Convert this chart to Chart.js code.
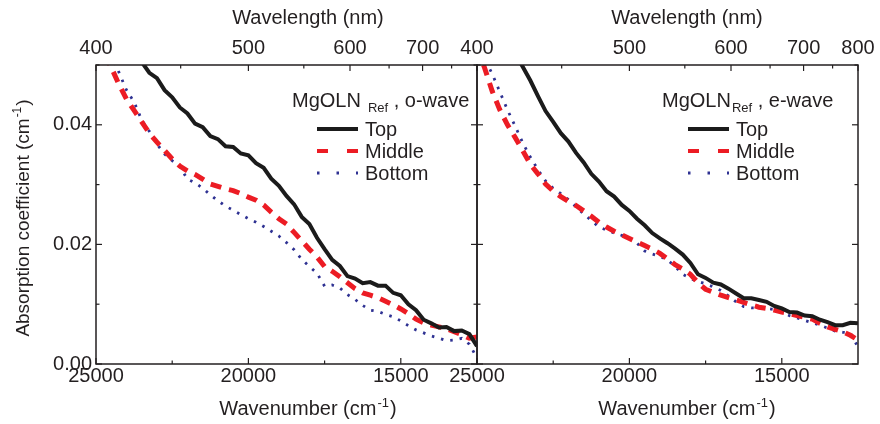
<!DOCTYPE html>
<html><head><meta charset="utf-8">
<script src="https://cdn.jsdelivr.net/npm/chart.js@4/dist/chart.umd.min.js"></script>
<style>
html,body{margin:0;padding:0;background:#fff;}
#wrap{position:relative;width:880px;height:424px;background:#fff;}
#wrap canvas{position:absolute;left:0;top:0;width:880px;height:424px;}
</style></head><body>
<div id="wrap"><canvas id="cL" width="880" height="424"></canvas><canvas id="cR" width="880" height="424"></canvas></div>
<script>
// ---- data ----
const wavenumbers = [25000,24750,24500,24250,24000,23750,23500,23250,23000,22750,22500,22250,22000,21750,21500,21250,21000,20750,20500,20250,20000,19750,19500,19250,19000,18750,18500,18250,18000,17750,17500,17250,17000,16750,16500,16250,16000,15750,15500,15250,15000,14750,14500,14250,14000,13750,13500,13250,13000,12750,12500];
const seriesNames = ['Top','Middle','Bottom'];
// o-wave (left panel)
const oTop    = [0.0600,0.0585,0.0568,0.0552,0.0536,0.0520,0.0505,0.0487,0.0478,0.0458,0.0446,0.0429,0.0419,0.0402,0.0396,0.0381,0.0376,0.0364,0.0363,0.0352,0.0349,0.0336,0.0328,0.0310,0.0298,0.0281,0.0267,0.0246,0.0234,0.0211,0.0192,0.0174,0.0164,0.0147,0.0143,0.0135,0.0137,0.0131,0.0131,0.0119,0.0115,0.0100,0.0090,0.0074,0.0068,0.0061,0.0062,0.0055,0.0056,0.0050,0.0030];
const oMiddle = [0.0545,0.0522,0.0496,0.0468,0.0443,0.0424,0.0405,0.0386,0.0371,0.0357,0.0343,0.0331,0.0323,0.0317,0.0309,0.0301,0.0297,0.0293,0.0290,0.0285,0.0279,0.0274,0.0266,0.0254,0.0243,0.0234,0.0220,0.0206,0.0192,0.0179,0.0163,0.0155,0.0146,0.0136,0.0126,0.0119,0.0115,0.0111,0.0105,0.0099,0.0092,0.0084,0.0075,0.0069,0.0065,0.0062,0.0059,0.0054,0.0049,0.0043,0.0045];
const oBottom = [0.0560,0.0540,0.0515,0.0488,0.0458,0.0438,0.0408,0.0389,0.0368,0.0351,0.0340,0.0330,0.0309,0.0303,0.0294,0.0283,0.0273,0.0264,0.0257,0.0250,0.0243,0.0237,0.0230,0.0222,0.0214,0.0203,0.0191,0.0175,0.0163,0.0152,0.0130,0.0132,0.0127,0.0116,0.0108,0.0098,0.0090,0.0088,0.0083,0.0079,0.0072,0.0064,0.0057,0.0052,0.0047,0.0043,0.0039,0.0040,0.0043,0.0033,0.0010];
// e-wave (right panel)
const eTop    = [0.0650,0.0625,0.0600,0.0575,0.0548,0.0520,0.0497,0.0474,0.0448,0.0423,0.0405,0.0386,0.0372,0.0353,0.0337,0.0318,0.0305,0.0289,0.0280,0.0266,0.0256,0.0243,0.0232,0.0219,0.0210,0.0202,0.0193,0.0183,0.0169,0.0150,0.0144,0.0136,0.0133,0.0126,0.0118,0.0110,0.0110,0.0107,0.0104,0.0097,0.0093,0.0087,0.0086,0.0081,0.0080,0.0074,0.0070,0.0065,0.0065,0.0069,0.0068];
const eMiddle = [0.0530,0.0495,0.0456,0.0425,0.0400,0.0379,0.0357,0.0334,0.0318,0.0301,0.0289,0.0280,0.0272,0.0265,0.0256,0.0247,0.0237,0.0229,0.0222,0.0216,0.0210,0.0204,0.0198,0.0192,0.0185,0.0176,0.0166,0.0159,0.0150,0.0136,0.0125,0.0120,0.0115,0.0111,0.0107,0.0103,0.0099,0.0095,0.0093,0.0090,0.0087,0.0084,0.0081,0.0078,0.0075,0.0068,0.0062,0.0058,0.0054,0.0048,0.0040];
const eBottom = [0.0535,0.0510,0.0485,0.0455,0.0425,0.0398,0.0370,0.0346,0.0325,0.0306,0.0294,0.0285,0.0275,0.0263,0.0251,0.0240,0.0229,0.0224,0.0219,0.0215,0.0210,0.0202,0.0189,0.0184,0.0180,0.0174,0.0163,0.0150,0.0143,0.0138,0.0134,0.0129,0.0123,0.0114,0.0104,0.0096,0.0094,0.0094,0.0093,0.0091,0.0086,0.0081,0.0077,0.0073,0.0069,0.0065,0.0060,0.0055,0.0053,0.0052,0.0028];
// tick values
const wavenumberTicks = [25000,20000,15000];
const wavenumberMinor = [22500,17500];
const wavelengthLabelsLeft = [400,500,600,700];
const wavelengthLabelsRight = [400,500,600,700,800];
const wavelengthMajor = [400,500,600,700,800];
const wavelengthMinor = [450,550,650,750];
const yTicks = [0,0.02,0.04];
const yMinor = [0.01,0.03,0.05];

// ---- styling ----
const TEXT = '#231f20';
const FAMILY = '"Liberation Sans", Arial, Helvetica, sans-serif';
const styles = [
  {color:'#1b1b1b', width:4, dash:[], legDash:[]},
  {color:'#ec1c24', width:5, dash:[11,8], legDash:[11,19]},
  {color:'#2e3192', width:2.8, dash:[2.5,7], legDash:[2.5,17]}
];

function partsWidth(ctx, parts){
  let w = 0;
  parts.forEach(p=>{ ctx.font = p.size+'px '+FAMILY; w += (p.pre||0) + ctx.measureText(p.t).width; });
  return w;
}
function drawRich(ctx, parts, x, y, align){
  let cx = align==='center' ? x - partsWidth(ctx, parts)/2 : x;
  parts.forEach(p=>{
    ctx.font = p.size+'px '+FAMILY;
    cx += (p.pre||0);
    ctx.fillText(p.t, cx, y + (p.dy||0));
    cx += ctx.measureText(p.t).width;
  });
}

function decorPlugin(cfg){
  return {
    id: 'decor',
    afterDraw(chart){
      const ctx = chart.ctx, a = chart.chartArea;
      const x = chart.scales.x, xt = chart.scales.xTop, y = chart.scales.y;
      ctx.save();
      ctx.strokeStyle = TEXT; ctx.fillStyle = TEXT;
      const seg = (x1,y1,x2,y2)=>{ ctx.beginPath(); ctx.moveTo(x1,y1); ctx.lineTo(x2,y2); ctx.stroke(); };
      ctx.lineWidth = 1.2;
      wavenumberTicks.forEach(v=>{ const p = x.getPixelForValue(v); seg(p,a.bottom,p,a.bottom-6); });
      wavenumberMinor.forEach(v=>{ const p = x.getPixelForValue(v); seg(p,a.bottom,p,a.bottom-3.5); });
      wavelengthMajor.forEach(l=>{ const p = xt.getPixelForValue(1e7/l); seg(p,a.top,p,a.top+6); });
      wavelengthMinor.forEach(l=>{ const p = xt.getPixelForValue(1e7/l); seg(p,a.top,p,a.top+3.5); });
      yTicks.forEach(v=>{ const p = y.getPixelForValue(v); seg(a.left,p,a.left+6,p); seg(a.right,p,a.right-6,p); });
      yMinor.forEach(v=>{ const p = y.getPixelForValue(v); seg(a.left,p,a.left+3.5,p); seg(a.right,p,a.right-3.5,p); });
      ctx.lineWidth = 1.5;
      ctx.strokeRect(a.left, a.top, a.right-a.left, a.bottom-a.top);

      ctx.textBaseline = 'alphabetic';
      ctx.textAlign = 'left';
      drawRich(ctx, [{t:'Wavelength (nm)', size:20}], cfg.titleX, 24, 'center');
      drawRich(ctx, [{t:'Wavenumber (cm', size:20},{t:'-1', size:13, dy:-8, pre:1},{t:')', size:20, pre:1}], cfg.titleX, 415, 'center');
      if (cfg.yTitle){
        ctx.save();
        ctx.translate(29, 218);
        ctx.rotate(-Math.PI/2);
        drawRich(ctx, [{t:'Absorption coefficient (cm', size:19},{t:'-1', size:12, dy:-8, pre:1},{t:')', size:19, pre:1}], 0, 0, 'center');
        ctx.restore();
      }
      // legend
      drawRich(ctx, cfg.legendTitle, cfg.legTitleX, 107, 'left');
      const rowsY = [129, 151, 173];
      seriesNames.forEach((name, i)=>{
        const s = styles[i];
        ctx.save();
        ctx.strokeStyle = s.color; ctx.lineWidth = Math.min(s.width, 4); ctx.setLineDash(s.legDash); ctx.lineCap = 'butt';
        seg(cfg.legLineX, rowsY[i], cfg.legLineX + 41, rowsY[i]);
        ctx.restore();
        ctx.font = '20px '+FAMILY;
        ctx.fillText(name, cfg.legTextX, rowsY[i] + 7);
      });
      ctx.restore();
    }
  };
}

function makeChart(id, values, cfg){
  const datasets = values.map((vals, i)=>({
    label: seriesNames[i],
    data: wavenumbers.map((w, k)=>({x: w, y: vals[k]})),
    borderColor: styles[i].color,
    borderWidth: styles[i].width,
    borderDash: styles[i].dash,
    pointRadius: 0,
    tension: 0,
    fill: false,
    clip: 0
  }));
  const tickFont = {family: FAMILY, size: 20};
  return new Chart(document.getElementById(id), {
    type: 'line',
    data: {datasets},
    options: {
      responsive: false,
      animation: false,
      events: [],
      layout: {padding: {left: cfg.padL, right: cfg.padR, top: 0, bottom: 0}},
      plugins: {legend: {display: false}, tooltip: {enabled: false}},
      scales: {
        x: {
          type: 'linear', position: 'bottom', min: 12500, max: 25000, reverse: true,
          grid: {display: false, drawTicks: false}, border: {display: false},
          afterBuildTicks: s => { s.ticks = wavenumberTicks.map(v => ({value: v})); },
          afterFit: s => { s.height = 60; },
          ticks: {autoSkip: false, maxRotation: 0, padding: 0, font: tickFont, color: TEXT, callback: v => String(v)}
        },
        xTop: {
          type: 'linear', position: 'top', min: 12500, max: 25000, reverse: true,
          grid: {display: false, drawTicks: false}, border: {display: false},
          afterBuildTicks: s => { s.ticks = cfg.wl.map(l => ({value: 1e7/l})); },
          afterFit: s => { s.height = 65; },
          ticks: {autoSkip: false, maxRotation: 0, padding: 5, font: tickFont, color: TEXT, callback: v => String(Math.round(1e7/v))}
        },
        y: {
          type: 'linear', position: 'left', min: 0, max: 0.05, display: cfg.showY,
          grid: {display: false, drawTicks: false}, border: {display: false},
          afterBuildTicks: s => { s.ticks = yTicks.map(v => ({value: v})); },
          afterFit: s => { s.width = cfg.yWidth; },
          ticks: {autoSkip: false, padding: 4, font: tickFont, color: TEXT, callback: v => Number(v).toFixed(2)}
        }
      }
    },
    plugins: [decorPlugin(cfg)]
  });
}

makeChart('cL', [oTop, oMiddle, oBottom], {
  padL: 0, padR: 403, yWidth: 96, showY: true, wl: wavelengthLabelsLeft,
  titleX: 308, yTitle: true,
  legendTitle: [{t:'MgOLN', size:20},{t:'Ref', size:13, dy:5, pre:7},{t:' , o-wave', size:20}],
  legTitleX: 292, legLineX: 317, legTextX: 365
});
makeChart('cR', [eTop, eMiddle, eBottom], {
  padL: 477, padR: 22, yWidth: 0, showY: false, wl: wavelengthLabelsRight,
  titleX: 687, yTitle: false,
  legendTitle: [{t:'MgOLN', size:20},{t:'Ref', size:13, dy:5, pre:1},{t:' , e-wave', size:20}],
  legTitleX: 662, legLineX: 688, legTextX: 736
});
</script>
</body></html>
